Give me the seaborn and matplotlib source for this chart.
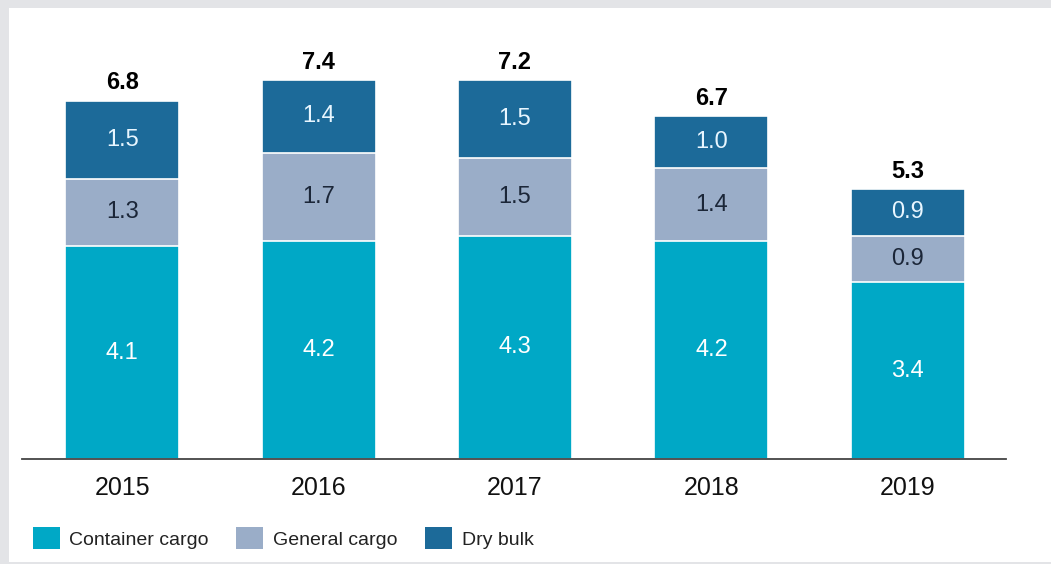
import matplotlib
matplotlib.use("Agg")
import matplotlib.pyplot as plt
from matplotlib.patches import Patch, Rectangle
from matplotlib import font_manager
import seaborn as sns
import pandas as pd
import numpy as np

years = ["2015", "2016", "2017", "2018", "2019"]
container = [4.1, 4.2, 4.3, 4.2, 3.4]
general = [1.3, 1.7, 1.5, 1.4, 0.9]
dry_bulk = [1.5, 1.4, 1.5, 1.0, 0.9]
totals = [6.8, 7.4, 7.2, 6.7, 5.3]
series_names = ["Container cargo", "General cargo", "Dry bulk"]
colors = ["#00a8c6", "#9aadc8", "#1c6a99"]
label_colors = ["white", "#1b2638", "#e8f6ff"]

sns.set_theme(style="white")
names = {f.name for f in font_manager.fontManager.ttflist}
fam = ["Liberation Sans Narrow", "Liberation Sans", "DejaVu Sans"]
fam = [f for f in fam if f in names] or ["DejaVu Sans"]
plt.rcParams["font.family"] = fam

fig = plt.figure(figsize=(10.51, 5.64), dpi=100)
fig.patch.set_facecolor("#e3e4e7")
fig.patches.append(Rectangle((9 / 1051, 2 / 564), 1.0, (554) / 564,
                             transform=fig.transFigure, facecolor="white",
                             edgecolor="none", zorder=-5))
ax = fig.add_axes([22 / 1051, 105 / 564, 984 / 1051, 418 / 564])
ax.set_facecolor("none")
ax.set_zorder(1)

df = pd.DataFrame({"year": years, "container": container,
                   "general": general, "dry": dry_bulk})
df["c1"] = df["container"]
df["c2"] = df["container"] + df["general"]
df["c3"] = df["c2"] + df["dry"]

for col, c in zip(["c3", "c2", "c1"], colors[::-1]):
    sns.barplot(data=df, x="year", y=col, color=c, width=0.58,
                edgecolor="white", linewidth=1.2, ax=ax, saturation=1)

ax.set_xlim(-0.51, 4.5)
ax.set_ylim(0, 8.05)
for i in range(len(years)):
    bottoms = [0, container[i], container[i] + general[i]]
    vals = [container[i], general[i], dry_bulk[i]]
    for b, v, lc in zip(bottoms, vals, label_colors):
        ax.text(i, b + v / 2, f"{v:.1f}", ha="center", va="center",
                fontsize=17, color=lc)
    top = bottoms[2] + vals[2]
    ax.text(i, top + 0.12, f"{totals[i]:.1f}", ha="center", va="bottom",
            fontsize=17, fontweight="bold", color="black")

ax.set_xlabel("")
ax.set_ylabel("")
ax.set_yticks([])
for s in ["top", "right", "left"]:
    ax.spines[s].set_visible(False)
ax.spines["bottom"].set_color("#444444")
ax.spines["bottom"].set_linewidth(1.3)
ax.tick_params(axis="x", length=0, labelsize=18, colors="#111111", pad=12)

handles = [Patch(facecolor=c, edgecolor="none", label=n)
           for c, n in zip(colors, series_names)]
fig.legend(handles=handles, loc="center left",
           bbox_to_anchor=(15 / 1051, 1 - 538 / 564), ncol=3, frameon=False,
           fontsize=14, handlelength=1.4, handleheight=1.3,
           handletextpad=0.5, columnspacing=1.4, labelcolor="#222222")

fig.savefig("out.png", dpi=100)
